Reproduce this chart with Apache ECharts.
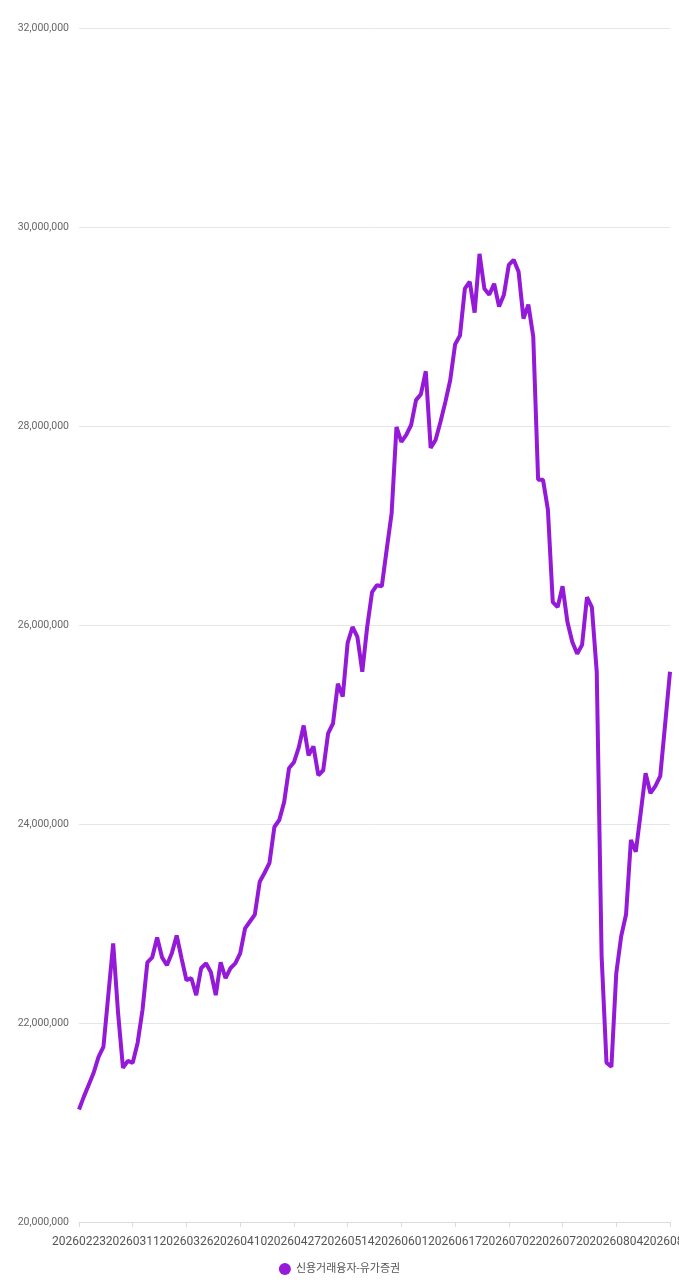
<!DOCTYPE html>
<html>
<head>
<meta charset="utf-8">
<script src="https://cdn.jsdelivr.net/npm/echarts@6/dist/echarts.min.js"></script>
<style>
html,body{margin:0;padding:0;background:#fff;}
#chart{width:679px;height:1280px;}
</style>
</head>
<body>
<div id="chart"></div>
<script>
const seriesName = '신용거래융자-유가증권';

const dates = [
  '20260223','20260224','20260225','20260226','20260227',
  '20260303','20260304','20260305','20260306','20260309','20260310','20260311',
  '20260312','20260313','20260316','20260317','20260318','20260319','20260320','20260323','20260324','20260325','20260326',
  '20260327','20260330','20260331','20260401','20260402','20260403','20260406','20260407','20260408','20260409','20260410',
  '20260413','20260414','20260415','20260416','20260417','20260420','20260421','20260422','20260423','20260424','20260427',
  '20260428','20260429','20260430','20260504','20260506','20260507','20260508','20260511','20260512','20260513','20260514',
  '20260515','20260518','20260519','20260520','20260521','20260522','20260526','20260527','20260528','20260529','20260601',
  '20260602','20260604','20260605','20260608','20260609','20260610','20260611','20260612','20260615','20260616','20260617',
  '20260618','20260619','20260622','20260623','20260624','20260625','20260626','20260629','20260630','20260701','20260702',
  '20260703','20260706','20260707','20260708','20260709','20260710','20260713','20260714','20260715','20260716','20260720',
  '20260721','20260722','20260723','20260724','20260727','20260728','20260729','20260730','20260731','20260803','20260804',
  '20260805','20260806','20260807','20260810','20260811','20260812','20260813','20260814','20260818','20260819','20260820'
];

const values = [
  21130000,21260000,21380000,21500000,21660000,21760000,22280000,22800000,22100000,21550000,
  21620000,21600000,21800000,22130000,22610000,22660000,22860000,22660000,22580000,22700000,
  22880000,22650000,22430000,22450000,22280000,22550000,22600000,22510000,22280000,22610000,
  22450000,22550000,22600000,22700000,22950000,23020000,23090000,23420000,23510000,23610000,
  23970000,24040000,24220000,24560000,24620000,24770000,24990000,24690000,24780000,24490000,
  24540000,24910000,25010000,25410000,25280000,25820000,25980000,25880000,25530000,25980000,
  26330000,26400000,26390000,26760000,27120000,27990000,27840000,27910000,28010000,28260000,
  28320000,28550000,27780000,27860000,28040000,28240000,28460000,28820000,28910000,29380000,
  29450000,29140000,29730000,29380000,29320000,29430000,29200000,29320000,29620000,29670000,
  29550000,29080000,29220000,28900000,27460000,27460000,27160000,26230000,26180000,26390000,
  26030000,25830000,25710000,25800000,26280000,26180000,25530000,22670000,21600000,21560000,
  22500000,22870000,23090000,23840000,23720000,24110000,24510000,24310000,24380000,24480000,
  25000000,25530000
];

const yMin = 20000000;
const yMax = 32000000;
const yStep = 2000000;

const lineColor = '#9419d9';
const axisGrey = '#dcdcdc';
const fontFam = 'Roboto, "Noto Sans CJK KR", sans-serif';
const lastIdx = dates.length - 1;
const isEnd = i => i === 0 || i === lastIdx;

const labelStyle = {fontSize: 12, color: '#555', margin: 14, fontFamily: fontFam};

const chart = echarts.init(document.getElementById('chart'), null, {renderer: 'canvas'});
chart.setOption({
  animation: false,
  backgroundColor: '#ffffff',
  textStyle: {fontFamily: fontFam},
  grid: {left: 79, right: 9, top: 28, bottom: 58, containLabel: false, outerBoundsMode: 'none'},
  legend: {
    bottom: 0,
    left: 'center',
    icon: 'circle',
    itemWidth: 12,
    itemHeight: 12,
    itemGap: 10,
    textStyle: {fontSize: 11, color: '#555', fontFamily: fontFam},
    data: [seriesName]
  },
  xAxis: [{
    type: 'category',
    data: dates,
    boundaryGap: false,
    position: 'bottom',
    axisLine: {lineStyle: {color: axisGrey}},
    axisTick: {interval: 10, lineStyle: {color: axisGrey}},
    axisLabel: Object.assign({interval: 10}, labelStyle),
    splitLine: {show: false}
  }, {
    type: 'category',
    data: dates,
    boundaryGap: false,
    position: 'bottom',
    offset: 0,
    axisLine: {show: false},
    axisTick: {interval: (i) => isEnd(i), lineStyle: {color: axisGrey}},
    axisLabel: Object.assign({interval: (i) => isEnd(i)}, labelStyle),
    splitLine: {show: false}
  }],
  yAxis: {
    type: 'value',
    min: yMin,
    max: yMax,
    interval: yStep,
    axisLine: {show: false},
    axisTick: {show: false},
    axisLabel: {
      fontSize: 10.5, color: '#666', margin: 10, fontFamily: fontFam,
      formatter: v => v.toLocaleString('en-US')
    },
    splitLine: {lineStyle: {color: '#e6e6e6'}}
  },
  series: [{
    name: seriesName,
    type: 'line',
    xAxisIndex: 0,
    data: values,
    showSymbol: false,
    symbol: 'circle',
    smooth: false,
    itemStyle: {color: lineColor},
    lineStyle: {color: lineColor, width: 4}
  }]
});
</script>
</body>
</html>
